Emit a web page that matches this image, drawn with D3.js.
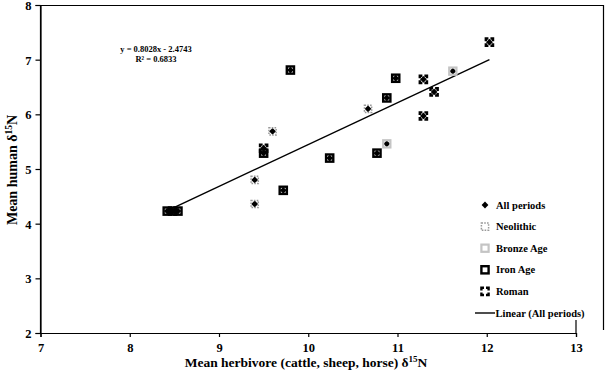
<!DOCTYPE html>
<html>
<head>
<meta charset="utf-8">
<script src="https://cdn.jsdelivr.net/npm/d3@7"></script>
<style>
  body { margin: 0; background: #fff; }
  svg { font-family: "Liberation Serif", "Times New Roman", serif; font-weight: bold; }
</style>
</head>
<body>
<svg id="svg" width="609" height="374"></svg>
<script>
// values, herbivore x / human y
var neolithicX = [9.40, 9.40, 9.60, 10.67];
var neolithicY = [4.36, 4.80, 5.69, 6.10];
var bronzeX = [10.88, 11.62];
var bronzeY = [5.46, 6.79];
var ironX = [8.42, 8.48, 8.54, 9.50, 9.72, 9.80, 10.24, 10.77, 10.88, 10.98];
var ironY = [4.23, 4.23, 4.23, 5.29, 4.61, 6.81, 5.20, 5.29, 6.30, 6.66];
var romanX = [9.50, 11.29, 11.29, 11.41, 12.03];
var romanY = [5.38, 5.97, 6.64, 6.41, 7.32];

var trendX = [8.50, 12.03];
var trendY = [4.30, 7.00];

var xTicks = [7, 8, 9, 10, 11, 12, 13];
var yTicks = [2, 3, 4, 5, 6, 7, 8];
var equationLines = ["y = 0.8028x - 2.4743", "R\u00b2 = 0.6833"];
var legendLabels = ["All periods", "Neolithic", "Bronze Age", "Iron Age", "Roman", "Linear (All periods)"];

var svg = d3.select("#svg");

var x = d3.scaleLinear().domain([7, 13]).range([40.5, 576]);
var y = d3.scaleLinear().domain([2, 8]).range([333, 5]);

function zip(xs, ys){
  return xs.map(function(v, i){ return {x: v, y: ys[i]}; });
}

var series = [
  {name: "Neolithic", pts: zip(neolithicX, neolithicY), stroke: "#999", width: 1.5, dash: "1.6,1.2", off: 0},
  {name: "Bronze Age", pts: zip(bronzeX, bronzeY), stroke: "#c4c4c4", width: 2.2, dash: null, off: 0},
  {name: "Iron Age", pts: zip(ironX, ironY), stroke: "#000", width: 2.4, dash: null, off: 0},
  {name: "Roman", pts: zip(romanX, romanY), stroke: "#000", width: 2.4, dash: "5.2,2", off: 2.6}
];
var allPts = [];
series.forEach(function(s){ allPts = allPts.concat(s.pts); });

// frame
var g = svg.append("g");
g.append("path")
  .attr("d", "M40.5,333V5.5H603.5V330")
  .attr("fill", "none").attr("stroke", "#000").attr("stroke-width", 1.2);
g.append("line").attr("x1", 576).attr("x2", 576).attr("y1", 320).attr("y2", 333)
  .attr("stroke", "#000").attr("stroke-width", 1.2);

var xAxis = svg.append("g")
  .attr("transform", "translate(0,333)")
  .call(d3.axisBottom(x).tickValues(xTicks).tickSize(4).tickPadding(6).tickFormat(d3.format("d")));
var yAxis = svg.append("g")
  .attr("transform", "translate(40.5,0)")
  .call(d3.axisLeft(y).tickValues(yTicks).tickSize(5).tickPadding(4).tickFormat(d3.format("d")));
[xAxis, yAxis].forEach(function(a){
  a.selectAll("text").attr("font-family", "Liberation Serif").attr("font-weight", "bold")
    .attr("font-size", 12.5).attr("fill", "#000");
  a.selectAll("path,line").attr("stroke", "#000").attr("stroke-width", 1.2);
});
yAxis.selectAll("text").attr("dy", "0.35em");

// axis titles
var xt = svg.append("text").attr("x", 306).attr("y", 367).attr("text-anchor", "middle").attr("font-size", 13.5);
xt.append("tspan").text("Mean herbivore (cattle, sheep, horse) \u03b4");
xt.append("tspan").attr("font-size", 9).attr("dy", -5).text("15");
xt.append("tspan").attr("dy", 5).text("N");

var yt = svg.append("text").attr("transform", "translate(17,170) rotate(-90)")
  .attr("text-anchor", "middle").attr("font-size", 14);
yt.append("tspan").text("Mean human \u03b4");
yt.append("tspan").attr("font-size", 9.5).attr("dy", -5).text("15");
yt.append("tspan").attr("dy", 5).text("N");

// trend line
var line = d3.line().x(function(d){ return x(d.x); }).y(function(d){ return y(d.y); });
svg.append("path").datum(zip(trendX, trendY))
  .attr("d", line).attr("fill", "none").attr("stroke", "#000").attr("stroke-width", 1.4);

svg.append("g").selectAll("text").data(equationLines).enter().append("text")
  .attr("x", 156).attr("y", function(d, i){ return 52 + i * 10; })
  .attr("text-anchor", "middle").attr("font-size", 8.5)
  .text(function(d){ return d; });

// markers
function diamond(sel, r){
  sel.append("path")
    .attr("d", "M0," + (-r) + "L" + r + ",0L0," + r + "L" + (-r) + ",0Z")
    .attr("fill", "#000");
}
function square(sel, s){
  sel.append("rect")
    .attr("x", -3.6).attr("y", -3.6).attr("width", 7.2).attr("height", 7.2)
    .attr("fill", "none").attr("stroke", s.stroke).attr("stroke-width", s.width)
    .attr("stroke-dasharray", s.dash).attr("stroke-dashoffset", s.off);
}

svg.append("g").selectAll("g").data(allPts).enter().append("g")
  .attr("transform", function(d){ return "translate(" + x(d.x) + "," + y(d.y) + ")"; })
  .each(function(){ diamond(d3.select(this), 3.4); });

series.forEach(function(s){
  svg.append("g").selectAll("g").data(s.pts).enter().append("g")
    .attr("transform", function(d){ return "translate(" + x(d.x) + "," + y(d.y) + ")"; })
    .each(function(){ square(d3.select(this), s); });
});

// legend
var leg = svg.append("g").selectAll("g").data(legendLabels).enter().append("g")
  .attr("transform", function(d, i){ return "translate(485," + (205 + i * 21.6) + ")"; });
leg.each(function(d, i){
  var el = d3.select(this);
  if (i == 0) diamond(el, 3.4);
  else if (i < 5) square(el, series[i - 1]);
  else el.append("line").attr("x1", -10).attr("x2", 10).attr("stroke", "#000").attr("stroke-width", 1.4);
  el.append("text").attr("x", i == 5 ? 10.5 : 11).attr("dy", "0.35em").attr("font-size", 10.5).text(d);
});
</script>
</body>
</html>
